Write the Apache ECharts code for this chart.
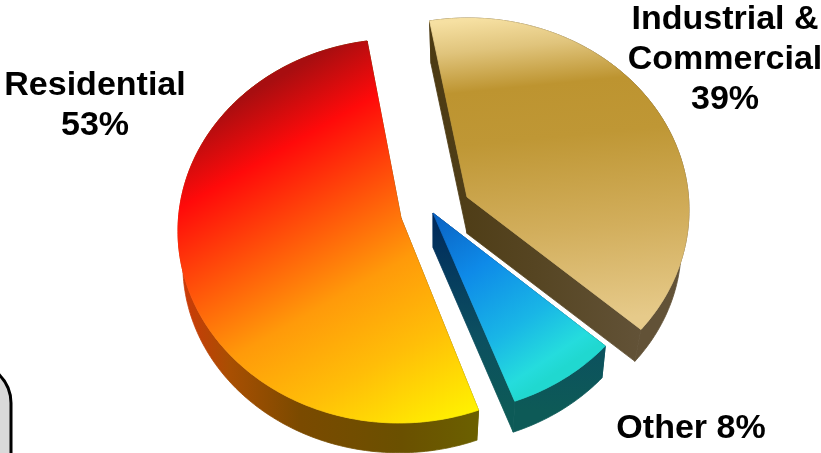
<!DOCTYPE html>
<html>
<head>
<meta charset="utf-8">
<style>html,body{margin:0;padding:0;background:#fff}#chart{width:821px;height:453px}</style>
<script src="https://cdn.jsdelivr.net/npm/echarts@6/dist/echarts.min.js"></script>
</head>
<body>
<div id="chart"></div>
<script>
// Share of total by sector, clockwise from the start angle.
const categories = ['Industrial &\nCommercial', 'Other', 'Residential'];
const shares = [39, 8, 53];
const labelJoiners = ['\n', ' ', '\n'];

const START_ANGLE = 350;
const RX = 221, RY = 192;

// Placement of each exploded wedge and its extrusion; trim nudges the edge
// angles by a degree or two for the tilted view.
const wedges = [
  { cx: 468, cy: 210, ax: 467, ay: 197, k: 0.965, d: 36, lx: 725, ly: 59.5, trim: [0, -1.9] },
  { cx: 437, cy: 221.5, ax: 433, ay: 213, k: 0.98, d: 34.5, lx: 691, ly: 429, trim: [0, 0.2] },
  { cx: 399, cy: 231, ax: 401, ay: 218, k: 0.978, d: 34, lx: 95, ly: 106, trim: [-0.3, 1.7] }
];

const G = (x0, y0, x1, y1, stops) => new echarts.graphic.LinearGradient(
  x0, y0, x1, y1, stops.map(s => ({ offset: s[0], color: s[1] })), true);

// Face and side shading per wedge.
const paints = [
  {
    top: G(468, 20, 498, 330, [[0, '#f6e0a2'], [0.1, '#e0c47c'], [0.23, '#bd9430'], [0.4, '#bf9735'], [0.7, '#d2ae5c'], [1, '#e6ca8a']]),
    side: G(429, 0, 640, 0, [[0, '#4c3a12'], [0.5, '#564522'], [1, '#625237']])
  },
  {
    top: G(228, 344, 341, 515, [[0, '#0a5fc0'], [0.36, '#0e8ae8'], [0.7, '#19b6e6'], [0.92, '#25dcdd'], [1, '#20d8d0']]),
    side: G(0, 220, 0, 410, [[0, '#002a5c'], [0.6, '#0c4f60'], [1, '#0d5a57']])
  },
  {
    top: G(102.5, 178.35, 298.5, 519.4, [[0, '#a80e10'], [0.163, '#ff0a0a'], [0.56, '#ff9a0a'], [0.76, '#ffbe08'], [1, '#fff500']]),
    side: G(183, 0, 478, 0, [[0, '#cc3a08'], [0.16, '#a84f02'], [0.4, '#7a4a00'], [0.74, '#6a5000'], [1, '#6b6000']])
  }
];

const total = shares.reduce((a, b) => a + b, 0);

function rim(w, deg, base) {
  const t = deg * Math.PI / 180;
  const k = base ? w.k : 1;
  return [
    w.cx + RX * k * Math.sin(t),
    w.cy - RY * k * Math.cos(t) + (base ? w.d : 0)
  ];
}

function arc(w, from, to, base) {
  const pts = [];
  for (let a = from; a < to; a += 1) pts.push(rim(w, a, base));
  pts.push(rim(w, to, base));
  return pts;
}

function renderWedge(params, api) {
  const i = params.dataIndex;
  const w = wedges[i];
  const value = api.value(0);
  let before = 0;
  for (let j = 0; j < i; j++) before += shares[j];
  const a0 = START_ANGLE + before / total * 360 + w.trim[0];
  const a1 = START_ANGLE + (before + value) / total * 360 + w.trim[1];
  const paint = paints[i];

  const apexTop = [w.ax, w.ay];
  const apexBase = [w.cx + (w.ax - w.cx) * w.k, w.cy + (w.ay - w.cy) * w.k + w.d];
  // Every polygon carries a hairline of its own colour so neighbours close up.
  const face = (points, fill) => ({
    type: 'polygon',
    shape: { points },
    style: { fill, stroke: fill, lineWidth: 0.8, lineJoin: 'round' }
  });

  const children = [
    // Radial walls, then the outer wall, then the top face over them.
    face([apexTop, rim(w, a0), rim(w, a0, true), apexBase], paint.side),
    face([apexTop, rim(w, a1), rim(w, a1, true), apexBase], paint.side),
    face(arc(w, a0, a1).concat(arc(w, a0, a1, true).reverse()), paint.side),
    face([apexTop].concat(arc(w, a0, a1)), paint.top)
  ];
  children.push({
    type: 'text',
    style: {
      x: w.lx, y: w.ly,
      text: categories[i] + labelJoiners[i] + value + '%',
      align: 'center', verticalAlign: 'middle',
      fontFamily: '"Liberation Sans", Arial, sans-serif',
      fontWeight: 'bold', fontSize: 34, lineHeight: 40, fill: '#000'
    }
  });
  return { type: 'group', children };
}

const chart = echarts.init(document.getElementById('chart'), null, { width: 821, height: 453 });
chart.setOption({
  animation: false,
  backgroundColor: '#fff',
  graphic: [{
    type: 'rect',
    shape: { x: -120, y: 363, width: 131, height: 200, r: 40 },
    style: { fill: '#d9d9d9', stroke: '#000', lineWidth: 3 },
    silent: true
  }],
  series: [{
    type: 'custom',
    coordinateSystem: 'none',
    renderItem: renderWedge,
    data: shares.map(v => [v])
  }]
});
</script>
</body>
</html>
